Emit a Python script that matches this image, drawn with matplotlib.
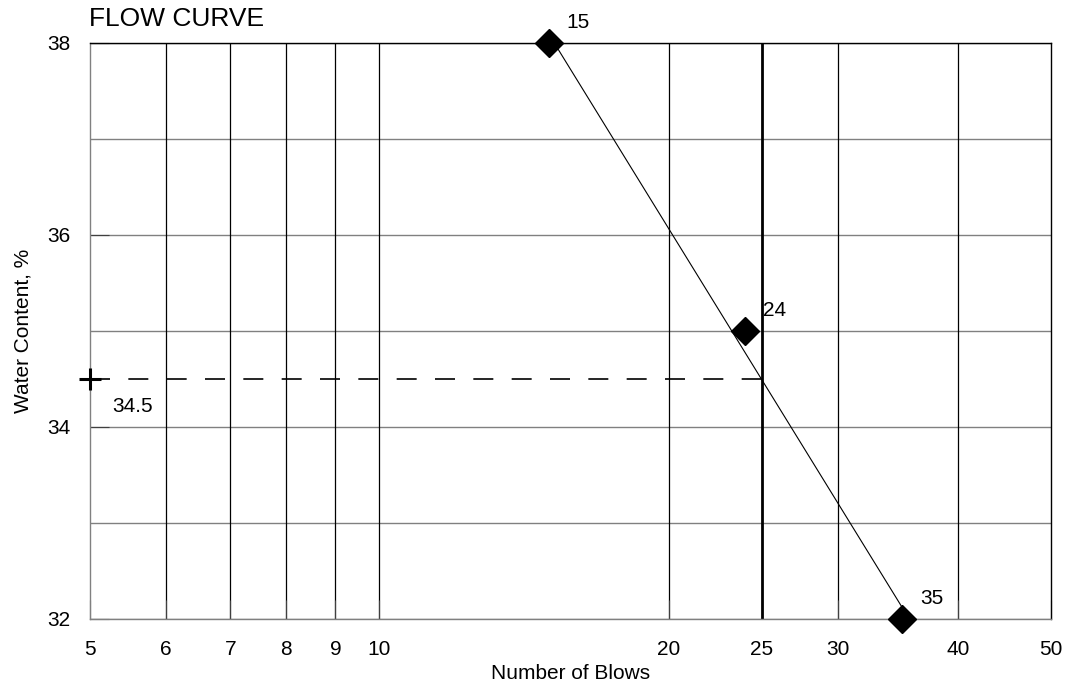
import numpy as np
import matplotlib.pyplot as plt
from matplotlib.ticker import FixedLocator, NullFormatter, NullLocator

# liquid limit test results
blows = [15, 24, 35]
water = [38, 35, 32]
point_labels = ['15', '24', '35']

x_ticks = [5, 6, 7, 8, 9, 10, 20, 25, 30, 40, 50]
x_grid = [6, 7, 8, 9, 10, 20, 30, 40]
y_major = [32, 34, 36, 38]
y_minor = [33, 35, 37]
target_blows = 25

plt.rcParams['font.family'] = ['Liberation Sans', 'DejaVu Sans']

fig = plt.figure(figsize=(10.67, 6.88), dpi=100)
ax = fig.add_axes([0.0844, 0.1003, 0.9006, 0.8372])

ax.set_xscale('log')
ax.set_xlim(5, 50)
ax.set_ylim(32, 38)

# grid
for g in y_major + y_minor:
    ax.axhline(g, color='#808080', lw=1.0, zorder=1)
for g in x_grid:
    ax.axvline(g, color='black', lw=0.9, zorder=1)
ax.axvline(target_blows, color='black', lw=2.0, zorder=2)

# log fit through the three points
coef = np.polyfit(np.log10(blows), water, 1)
xs = np.array([min(blows), max(blows)])
ax.plot(xs, np.polyval(coef, np.log10(xs)), color='black', lw=0.8, zorder=3)

ll = round(float(np.polyval(coef, np.log10(target_blows))), 1)
ax.plot([5, target_blows], [ll, ll], color='black', lw=1.2,
        dashes=(12, 11), zorder=3)
ax.plot([5], [ll], marker='+', color='black', markersize=16, mew=2.2,
        clip_on=False, zorder=5)
ax.annotate(f'{ll}', (5, ll), xytext=(16, -20), textcoords='offset points',
            ha='left', va='center', fontsize=15)

ax.plot(blows, water, linestyle='none', marker='D', color='black',
        markersize=14, clip_on=False, zorder=6)
for x, y, t in zip(blows, water, point_labels):
    ax.annotate(t, (x, y), xytext=(13, 14.5), textcoords='offset points',
                ha='left', va='center', fontsize=15)

ax.xaxis.set_major_locator(FixedLocator(x_ticks))
ax.set_xticklabels([str(t) for t in x_ticks])
ax.xaxis.set_minor_locator(NullLocator())
ax.xaxis.set_minor_formatter(NullFormatter())
ax.set_yticks(y_major)
ax.set_yticklabels([str(t) for t in y_major])
ax.tick_params(axis='both', direction='in', length=14, width=0.8,
               color='#404040', labelsize=15)
ax.tick_params(axis='x', pad=15)
ax.tick_params(axis='y', pad=14)

for s in ['top', 'right']:
    ax.spines[s].set_color('black')
for s in ['left', 'bottom']:
    ax.spines[s].set_color('#808080')
for s in ax.spines.values():
    s.set_linewidth(1.0)

ax.set_xlabel('Number of Blows', fontsize=15, labelpad=4)
ax.set_ylabel('Water Content, %', fontsize=15, labelpad=11)
fig.text(0.0835, 0.9717, 'FLOW CURVE', fontsize=19, ha='left', va='center')

fig.savefig('out.png', dpi=100)
